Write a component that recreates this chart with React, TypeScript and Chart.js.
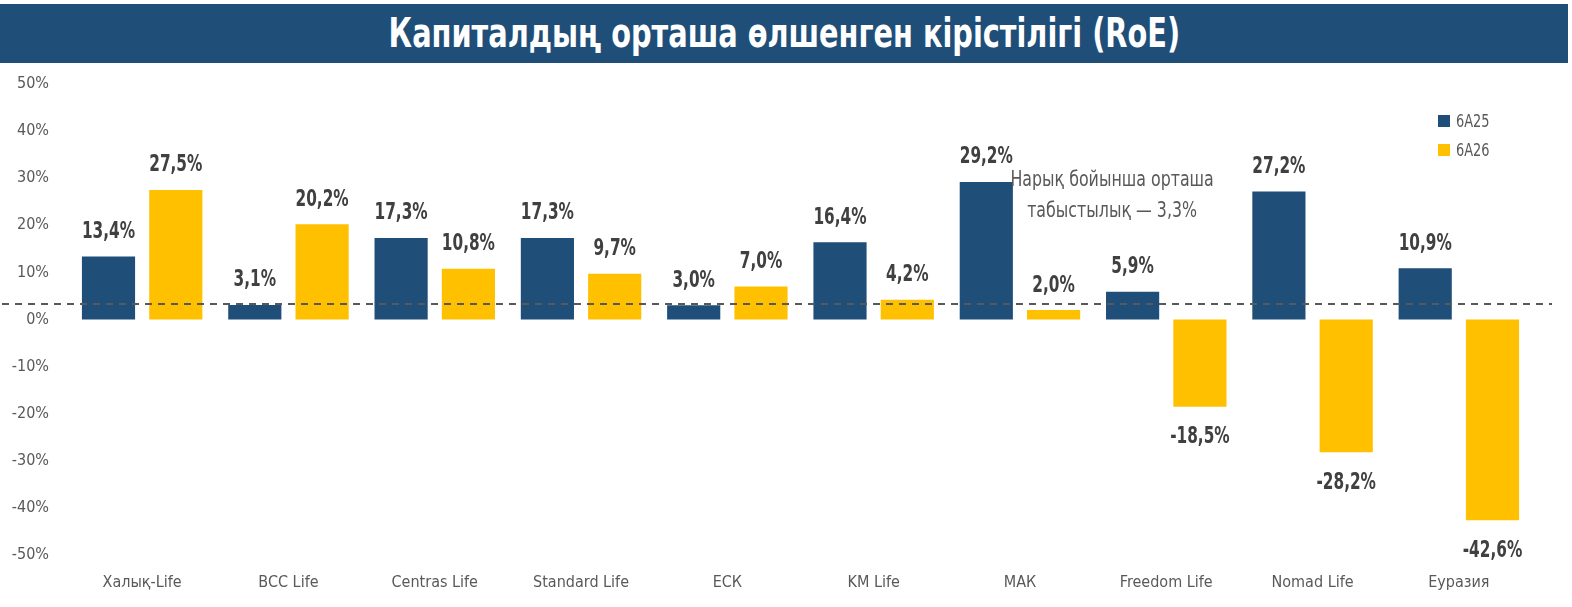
import React, { useEffect, useRef } from "react";
import { Chart, registerables, Plugin } from "chart.js";

Chart.register(...registerables);

const categories = [
  "Халық-Life",
  "BCC Life",
  "Centras Life",
  "Standard Life",
  "ЕСК",
  "KM Life",
  "МАК",
  "Freedom Life",
  "Nomad Life",
  "Еуразия",
];
const seriesNames = ["6A25", "6A26"];
const values6A25 = [13.4, 3.1, 17.3, 17.3, 3.0, 16.4, 29.2, 5.9, 27.2, 10.9];
const values6A26 = [27.5, 20.2, 10.8, 9.7, 7.0, 4.2, 2.0, -18.5, -28.2, -42.6];
const marketAverage = 3.3;
const annotationLines = ["Нарық бойынша орташа", "табыстылық — 3,3%"];
const titleText = "Капиталдың орташа өлшенген кірістілігі (RoE)";

const BLUE = "#1F4E79";
const YELLOW = "#FFC000";
const GREY = "#595959";
const DARK = "#404040";
const FONT = '"Liberation Sans Narrow", "DejaVu Sans Condensed", "Roboto Condensed", sans-serif';

const fmt = (v: number) => v.toFixed(1).replace(".", ",") + "%";

// squeeze text horizontally to get the narrow look of the original
const narrowText = (
  c: CanvasRenderingContext2D,
  text: string,
  x: number,
  y: number,
  sx: number
) => {
  c.save();
  c.translate(x, y);
  c.scale(sx, 1);
  c.fillText(text, 0, 0);
  c.restore();
};

const App: React.FC = () => {
  const canvasRef = useRef<HTMLCanvasElement | null>(null);
  const chartRef = useRef<Chart<"bar"> | null>(null);

  useEffect(() => {
    document.body.style.margin = "0";
    const canvas = canvasRef.current;
    if (!canvas) return;
    const ctx = canvas.getContext("2d");
    if (!ctx) return;

    const valueLabels: Plugin<"bar"> = {
      id: "valueLabels",
      afterDatasetsDraw(chart) {
        const c = chart.ctx;
        c.save();
        c.font = `bold 23px ${FONT}`;
        c.fillStyle = DARK;
        c.textAlign = "center";
        chart.data.datasets.forEach((ds, di) => {
          const meta = chart.getDatasetMeta(di);
          meta.data.forEach((bar, i) => {
            const v = ds.data[i] as number;
            if (v >= 0) {
              c.textBaseline = "bottom";
              narrowText(c, fmt(v), bar.x, bar.y - 13, 0.74);
            } else {
              c.textBaseline = "top";
              narrowText(c, fmt(v), bar.x, bar.y + 19, 0.74);
            }
          });
        });
        c.restore();
      },
    };

    const extras: Plugin<"bar"> = {
      id: "extras",
      afterDraw(chart) {
        const c = chart.ctx;
        const y = chart.scales.y.getPixelForValue(marketAverage);
        c.save();
        c.strokeStyle = GREY;
        c.lineWidth = 2;
        c.setLineDash([7, 6]);
        c.beginPath();
        c.moveTo(2, y);
        c.lineTo(1552, y);
        c.stroke();
        c.setLineDash([]);

        const xs = chart.scales.x;
        const ax = (xs.getPixelForValue(6) + xs.getPixelForValue(7)) / 2 + 19;
        c.font = `22px ${FONT}`;
        c.fillStyle = GREY;
        c.textAlign = "center";
        c.textBaseline = "middle";
        narrowText(c, annotationLines[0], ax, 180, 0.8);
        narrowText(c, annotationLines[1], ax, 211, 0.8);

        c.textAlign = "left";
        c.font = `18px ${FONT}`;
        chart.data.datasets.forEach((ds, di) => {
          const ly = 121 + di * 29;
          c.fillStyle = ds.backgroundColor as string;
          c.fillRect(1438, ly - 6, 12, 12);
          c.fillStyle = GREY;
          narrowText(c, ds.label as string, 1456, ly + 1, 0.8);
        });
        c.restore();
      },
    };

    if (chartRef.current) chartRef.current.destroy();
    chartRef.current = new Chart(ctx, {
      type: "bar",
      data: {
        labels: categories,
        datasets: [
          {
            label: seriesNames[0],
            data: values6A25,
            backgroundColor: BLUE,
            categoryPercentage: 0.92,
            barPercentage: 0.79,
          },
          {
            label: seriesNames[1],
            data: values6A26,
            backgroundColor: YELLOW,
            categoryPercentage: 0.92,
            barPercentage: 0.79,
          },
        ],
      },
      options: {
        animation: false,
        responsive: true,
        maintainAspectRatio: false,
        layout: { padding: { top: 84, right: 40, left: 0, bottom: 0 } },
        plugins: {
          legend: { display: false },
          tooltip: { enabled: false },
        },
        scales: {
          x: {
            grid: { display: false, drawTicks: false },
            border: { display: false },
            ticks: {
              color: GREY,
              font: { family: FONT, size: 16 },
              padding: 18,
              maxRotation: 0,
              autoSkip: false,
            },
            afterFit(scale) {
              scale.height = 52;
            },
          },
          y: {
            min: -50,
            max: 50,
            grid: { display: false, drawTicks: false },
            border: { display: false },
            ticks: {
              stepSize: 10,
              color: GREY,
              font: { family: FONT, size: 16 },
              padding: 20,
              callback: (v) => `${v}%`,
            },
            afterFit(scale) {
              scale.width = 69;
            },
          },
        },
      },
      plugins: [valueLabels, extras],
    });

    return () => {
      if (chartRef.current) {
        chartRef.current.destroy();
        chartRef.current = null;
      }
    };
  }, []);

  return (
    <div style={{ position: "relative", width: 1572, height: 607, background: "#fff" }}>
      <div
        style={{
          position: "absolute",
          left: 0,
          top: 4,
          width: 1568,
          height: 59,
          background: BLUE,
          color: "#fff",
          fontFamily: FONT,
          fontWeight: "bold",
          fontSize: 41,
          lineHeight: "59px",
          textAlign: "center",
          zIndex: 1,
        }}
      >
        <span style={{ display: "inline-block", transform: "scaleX(0.78)" }}>{titleText}</span>
      </div>
      <canvas ref={canvasRef} style={{ position: "absolute", left: 0, top: 0, width: 1572, height: 607 }} />
    </div>
  );
};

export default App;
